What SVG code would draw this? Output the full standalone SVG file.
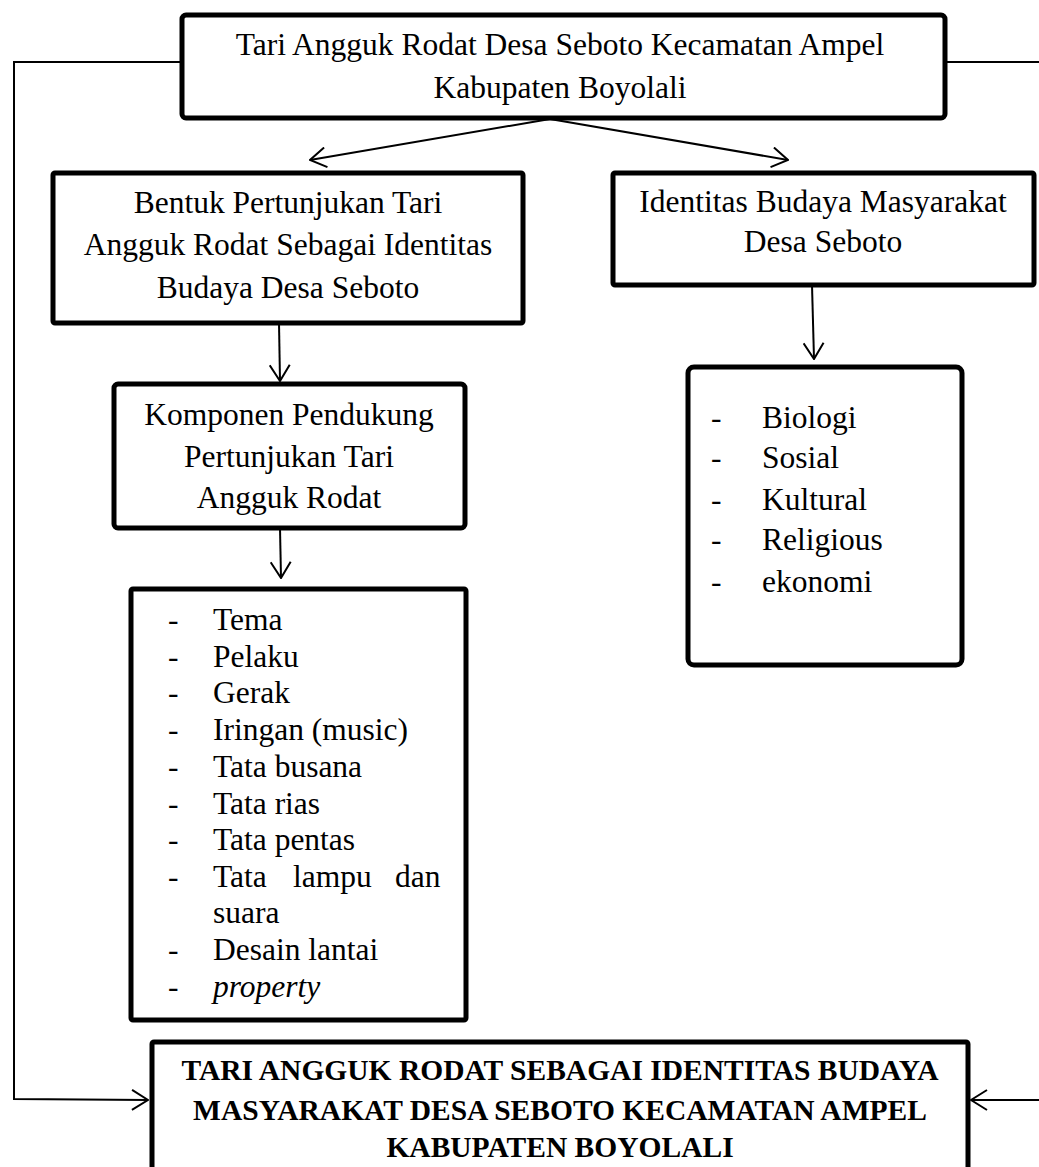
<svg xmlns="http://www.w3.org/2000/svg" width="1039" height="1167" viewBox="0 0 1039 1167">
<style>
.box{fill:#fff;stroke:#000;stroke-width:5}
.t{font-family:"Liberation Serif","Times New Roman",serif;font-size:31.5px;fill:#000}
.c{text-anchor:middle}
.b{font-weight:bold;font-size:29.5px}
.con{fill:none;stroke:#000;stroke-width:2}
</style>
<defs>
<marker id="arr" viewBox="0 0 18 22" refX="17" refY="11" markerWidth="18" markerHeight="22" markerUnits="userSpaceOnUse" orient="auto">
<path d="M1,1 L17,11 L1,21" fill="none" stroke="#000" stroke-width="2"/>
</marker>
</defs>
<rect width="1039" height="1167" fill="#fff"/>
<g id="connectors">
<path class="con" d="M182,62 L14,62 L14,1099 L148,1100" marker-end="url(#arr)"/>
<path class="con" d="M945,62 L1045,62 L1045,1100 L971,1100" marker-end="url(#arr)"/>
<line class="con" x1="550" y1="119" x2="310" y2="160" marker-end="url(#arr)"/>
<line class="con" x1="550" y1="119" x2="788" y2="160" marker-end="url(#arr)"/>
<line class="con" x1="279" y1="323" x2="280" y2="381" marker-end="url(#arr)"/>
<line class="con" x1="280" y1="528" x2="281" y2="578" marker-end="url(#arr)"/>
<line class="con" x1="812" y1="285" x2="814" y2="359" marker-end="url(#arr)"/>
</g>
<g id="top">
<rect class="box" x="182" y="15" width="763" height="103" rx="4"/>
<text class="t c" x="560" y="55">Tari Angguk Rodat Desa Seboto Kecamatan Ampel</text>
<text class="t c" x="560" y="98">Kabupaten Boyolali</text>
</g>
<g id="bentuk">
<rect class="box" x="53" y="173" width="470" height="150" rx="2"/>
<text class="t c" x="288" y="213">Bentuk Pertunjukan Tari</text>
<text class="t c" x="288" y="255">Angguk Rodat Sebagai Identitas</text>
<text class="t c" x="288" y="298">Budaya Desa Seboto</text>
</g>
<g id="identitas">
<rect class="box" x="613" y="173" width="421" height="112" rx="2"/>
<text class="t c" x="823" y="212">Identitas Budaya Masyarakat</text>
<text class="t c" x="823" y="252">Desa Seboto</text>
</g>
<g id="komponen">
<rect class="box" x="114" y="384" width="351" height="144" rx="4"/>
<text class="t c" x="289" y="425">Komponen Pendukung</text>
<text class="t c" x="289" y="467">Pertunjukan Tari</text>
<text class="t c" x="289" y="508">Angguk Rodat</text>
</g>
<g id="list-komponen">
<rect class="box" x="131" y="589" width="335" height="431" rx="2"/>
<g class="t">
<text x="168" y="630">-</text><text x="213" y="630">Tema</text>
<text x="168" y="667">-</text><text x="213" y="667">Pelaku</text>
<text x="168" y="703">-</text><text x="213" y="703">Gerak</text>
<text x="168" y="740">-</text><text x="213" y="740">Iringan (music)</text>
<text x="168" y="777">-</text><text x="213" y="777">Tata busana</text>
<text x="168" y="814">-</text><text x="213" y="814">Tata rias</text>
<text x="168" y="850">-</text><text x="213" y="850">Tata pentas</text>
<text x="168" y="887">-</text><text y="887"><tspan x="213">Tata</tspan><tspan x="293">lampu</tspan><tspan x="395">dan</tspan></text>
<text x="213" y="923">suara</text>
<text x="168" y="960">-</text><text x="213" y="960">Desain lantai</text>
<text x="168" y="997">-</text><text x="213" y="997" font-style="italic">property</text>
</g>
</g>
<g id="list-identitas">
<rect class="box" x="688" y="367" width="274" height="298" rx="6"/>
<g class="t">
<text x="711" y="428">-</text><text x="762" y="428">Biologi</text>
<text x="711" y="468">-</text><text x="762" y="468">Sosial</text>
<text x="711" y="510">-</text><text x="762" y="510">Kultural</text>
<text x="711" y="550">-</text><text x="762" y="550">Religious</text>
<text x="711" y="592">-</text><text x="762" y="592">ekonomi</text>
</g>
</g>
<g id="kesimpulan">
<rect class="box" x="152" y="1042" width="816" height="140" rx="2"/>
<text class="t c b" x="560" y="1080">TARI ANGGUK RODAT SEBAGAI IDENTITAS BUDAYA</text>
<text class="t c b" x="560" y="1120">MASYARAKAT DESA SEBOTO KECAMATAN AMPEL</text>
<text class="t c b" x="560" y="1157">KABUPATEN BOYOLALI</text>
</g>
</svg>
